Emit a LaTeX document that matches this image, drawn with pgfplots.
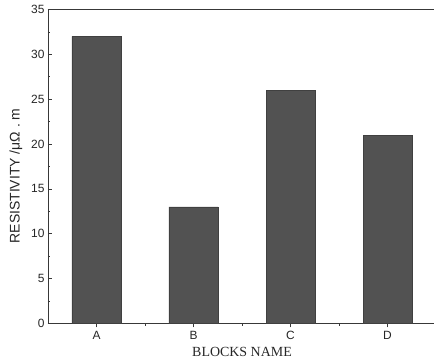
\documentclass[border=0pt]{standalone}
\usepackage{fontspec}
\setmainfont{Liberation Serif}
\setsansfont{Liberation Sans}
\usepackage{pgfplots}
\pgfplotsset{compat=1.18}
\begin{document}
\begin{tikzpicture}
\begin{axis}[
  scale only axis,
  width=388bp, height=314bp,
  xmin=-0.5, xmax=3.5,
  ymin=0, ymax=35,
  axis x line=box, axis y line=left,
  axis line style={-, line width=0.9pt, color=black!78},
  xtick={0,1,2,3},
  xticklabels={A,B,C,D},
  minor xtick={0.5,1.5,2.5},
  ytick={0,5,...,35},
  minor y tick num=1,
  tick pos=left,
  tick align=inside,
  major tick length=4bp,
  minor tick length=2.5bp,
  tick style={line width=0.8pt, color=black!78},
  /pgf/number format/assume math mode=true,
  ticklabel style={font=\sffamily\fontsize{12}{14}\selectfont, color=black!85},
  every axis x label/.style={at={(axis description cs:0.5,-0.091)}, anchor=center,
    font=\fontsize{14}{16}\selectfont, color=black!85},
  every axis y label/.style={at={(axis description cs:-0.083,0.47)}, anchor=center, rotate=90,
    font=\sffamily\fontsize{14}{16}\selectfont, color=black!85},
  xlabel={BLOCKS NAME},
  ylabel={RESISTIVITY /μΩ . m},
  ybar, bar width=49bp,
]
\addplot[fill=black!68, draw=black!75, line width=0.6pt] coordinates {(0,32) (1,13) (2,26) (3,21)};
\end{axis}
\pgfresetboundingbox
\path[use as bounding box] ([xshift=-48bp,yshift=-39.5bp]current axis.south west) rectangle ([xshift=386bp,yshift=323.5bp]current axis.south west);
\end{tikzpicture}
\end{document}
